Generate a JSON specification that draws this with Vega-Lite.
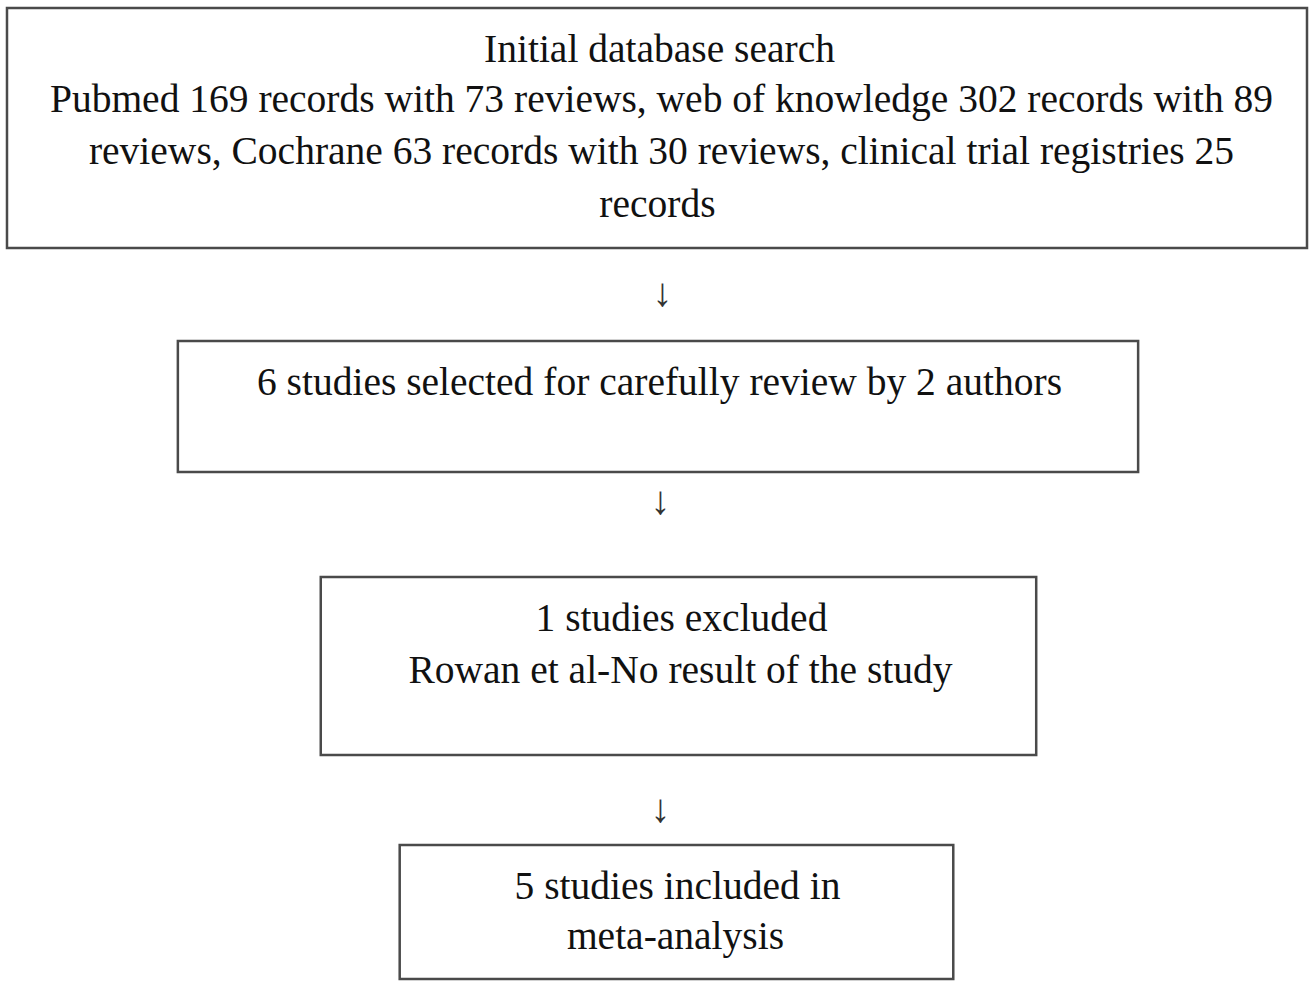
{
  "$schema": "https://vega.github.io/schema/vega-lite/v6.json",
  "width": 1309,
  "height": 981,
  "autosize": {"type": "fit", "contains": "padding"},
  "padding": 0,
  "background": "white",
  "config": {"view": {"stroke": null}},
  "datasets": {
    "boxes": [
      {"box": "search", "x1": 7, "x2": 1308, "y1": 8, "y2": 248},
      {"box": "selected", "x1": 178, "x2": 1139, "y1": 341, "y2": 472},
      {"box": "excluded", "x1": 321, "x2": 1037, "y1": 577, "y2": 755},
      {"box": "included", "x1": 400, "x2": 954, "y1": 845, "y2": 979}
    ],
    "lines": [
      {"label": "Initial database search", "cx": 660, "cy": 50},
      {"label": "Pubmed 169 records with 73 reviews, web of knowledge 302 records with 89", "cx": 662, "cy": 100},
      {"label": "reviews, Cochrane 63 records with 30 reviews, clinical trial registries 25", "cx": 662, "cy": 152},
      {"label": "records", "cx": 658, "cy": 205},
      {"label": "6 studies selected for carefully review by 2 authors", "cx": 660, "cy": 383},
      {"label": "1 studies excluded", "cx": 682, "cy": 619},
      {"label": "Rowan et al-No result of the study", "cx": 681, "cy": 671},
      {"label": "5 studies included in", "cx": 678, "cy": 887},
      {"label": "meta-analysis", "cx": 676, "cy": 937}
    ],
    "arrows": [
      {"sym": "↓", "ax": 663, "ay": 294},
      {"sym": "↓", "ax": 661, "ay": 502},
      {"sym": "↓", "ax": 661, "ay": 810}
    ]
  },
  "layer": [
    {
      "data": {"name": "boxes"},
      "mark": {"type": "rect", "fill": "white", "stroke": "#4a4a4a", "strokeWidth": 2.5},
      "encoding": {
        "x": {"field": "x1", "type": "quantitative", "scale": {"domain": [0, 1309], "nice": false, "zero": false}, "axis": null},
        "x2": {"field": "x2"},
        "y": {"field": "y1", "type": "quantitative", "scale": {"domain": [0, 981], "reverse": true, "nice": false, "zero": false}, "axis": null},
        "y2": {"field": "y2"}
      }
    },
    {
      "data": {"name": "lines"},
      "mark": {"type": "text", "font": "Liberation Serif", "fontSize": 39.5, "color": "#111111", "align": "center", "baseline": "middle"},
      "encoding": {
        "x": {"field": "cx", "type": "quantitative", "scale": {"domain": [0, 1309], "nice": false, "zero": false}, "axis": null},
        "y": {"field": "cy", "type": "quantitative", "scale": {"domain": [0, 981], "reverse": true, "nice": false, "zero": false}, "axis": null},
        "text": {"field": "label"}
      }
    },
    {
      "data": {"name": "arrows"},
      "mark": {"type": "text", "font": "Liberation Serif", "fontSize": 40, "fontWeight": "bold", "color": "#333333", "align": "center", "baseline": "middle"},
      "encoding": {
        "x": {"field": "ax", "type": "quantitative", "scale": {"domain": [0, 1309], "nice": false, "zero": false}, "axis": null},
        "y": {"field": "ay", "type": "quantitative", "scale": {"domain": [0, 981], "reverse": true, "nice": false, "zero": false}, "axis": null},
        "text": {"field": "sym"}
      }
    }
  ]
}
